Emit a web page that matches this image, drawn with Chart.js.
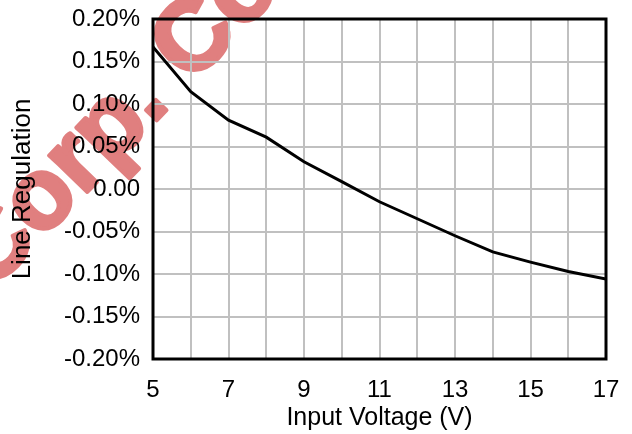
<!DOCTYPE html>
<html>
<head>
<meta charset="utf-8">
<script src="https://cdn.jsdelivr.net/npm/chart.js@4/dist/chart.umd.min.js"></script>
<style>
  html, body { margin: 0; padding: 0; background: #fff; }
  #wrap { width: 632px; height: 434px; position: relative; }
</style>
</head>
<body>
<div id="wrap"><canvas id="mainChart"></canvas></div>
<script>
// input voltage (V) and line regulation (%)
const voltages = [5, 6, 7, 8, 9, 10, 11, 12, 13, 14, 15, 16, 17];
const regulation = [0.167, 0.1145, 0.081, 0.061, 0.032, 0.0086, -0.015, -0.035, -0.055, -0.074, -0.086, -0.097, -0.106];
const xTickLabels = [5, 7, 9, 11, 13, 15, 17];
const yTickLabels = ['-0.20%', '-0.15%', '-0.10%', '-0.05%', '0.00', '0.05%', '0.10%', '0.15%', '0.20%'];
const watermark = 'Corp. Co';

const font = 'Arial, "Liberation Sans", sans-serif';

const background = {
    id: 'background',
    beforeDraw(c) {
        const ctx = c.ctx;
        ctx.save();
        ctx.fillStyle = '#fff';
        ctx.fillRect(0, 0, c.width, c.height);
        // red watermark behind the chart
        ctx.translate(-10, 293);
        ctx.rotate(-46 * Math.PI / 180);
        ctx.font = 'bold 100px ' + font;
        ctx.fillStyle = '#e07f7f';
        ctx.strokeStyle = '#e07f7f';
        ctx.lineWidth = 4;
        ctx.lineJoin = 'round';
        ctx.textBaseline = 'alphabetic';
        ctx.fillText(watermark, 0, 0);
        ctx.strokeText(watermark, 0, 0);
        ctx.restore();
    }
};

const frame = {
    id: 'frame',
    afterDatasetsDraw(c) {
        const a = c.chartArea;
        const ctx = c.ctx;
        ctx.save();
        ctx.strokeStyle = '#000';
        ctx.lineWidth = 3;
        ctx.strokeRect(a.left, a.top, a.right - a.left, a.bottom - a.top);
        ctx.restore();
    }
};

const ctx = document.getElementById('mainChart').getContext('2d');
const chart = new Chart(ctx, {
    type: 'line',
    data: {
        datasets: [{
            data: voltages.map((v, i) => ({ x: v, y: regulation[i] })),
            borderColor: '#000',
            borderWidth: 3,
            pointRadius: 0,
            tension: 0,
            fill: false
        }]
    },
    options: {
        responsive: true,
        maintainAspectRatio: false,
        animation: false,
        layout: { padding: { top: 19, right: 26, left: 0, bottom: 0 } },
        scales: {
            x: {
                type: 'linear',
                min: 5,
                max: 17,
                afterFit(s) {
                    s.height = 75;
                    s.paddingLeft = 0;
                    s.paddingRight = 0;
                },
                ticks: {
                    stepSize: 1,
                    autoSkip: false,
                    maxRotation: 0,
                    padding: 17,
                    color: '#000',
                    font: { family: font, size: 24 },
                    callback: v => xTickLabels.includes(v) ? String(v) : ''
                },
                grid: { color: '#c0c0c0', lineWidth: 2, drawTicks: false },
                border: { display: false },
                title: {
                    display: true,
                    text: 'Input Voltage (V)',
                    color: '#000',
                    font: { family: font, size: 25 },
                    padding: { top: 0, bottom: 1 }
                }
            },
            y: {
                min: -0.2,
                max: 0.2,
                afterFit(s) {
                    s.width = 153;
                    s.paddingTop = 0;
                    s.paddingBottom = 0;
                },
                ticks: {
                    stepSize: 0.05,
                    padding: 13,
                    color: '#000',
                    font: { family: font, size: 24 },
                    callback: (v, i) => yTickLabels[i]
                },
                grid: { color: '#c0c0c0', lineWidth: 2, drawTicks: false },
                border: { display: false },
                title: {
                    display: true,
                    text: 'Line Regulation',
                    color: '#000',
                    font: { family: font, size: 26 },
                    padding: { top: 7, bottom: 0 }
                }
            }
        },
        plugins: {
            legend: { display: false },
            tooltip: { enabled: false }
        }
    },
    plugins: [background, frame]
});
</script>
</body>
</html>
